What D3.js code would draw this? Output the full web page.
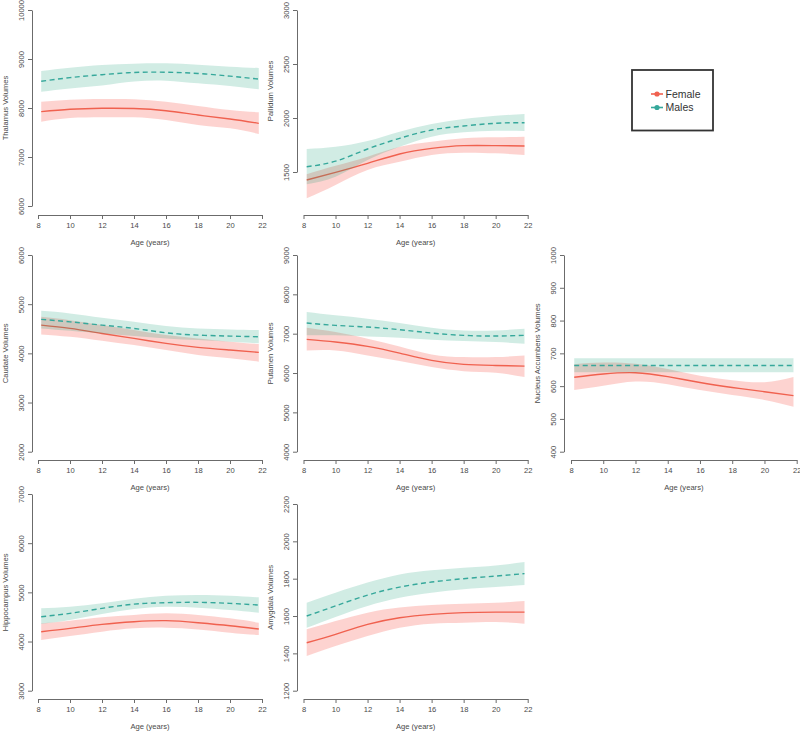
<!DOCTYPE html>
<html><head><meta charset="utf-8">
<script src="https://cdn.jsdelivr.net/npm/d3@7"></script>
<style>body{margin:0;background:#fff}svg{display:block}text{font-family:"Liberation Sans",Arial,sans-serif}</style>
</head><body><svg id="c" width="800" height="732"></svg>
<script>
const ages = [8.2, 10, 12, 14, 16, 18, 20, 21.8];
const xTicks = [8, 10, 12, 14, 16, 18, 20, 22];
const seriesNames = ["Female", "Males"];

// Thalamus
const thalamusFemale   = [7925, 7975, 7995, 7990, 7945, 7857, 7776, 7687];
const thalamusFemaleLo = [7721, 7795, 7810, 7810, 7755, 7653, 7585, 7469];
const thalamusFemaleHi = [8129, 8170, 8184, 8180, 8129, 8041, 7959, 7912];
const thalamusMale     = [8545, 8620, 8680, 8725, 8730, 8705, 8650, 8590];
const thalamusMaleLo   = [8333, 8400, 8460, 8540, 8557, 8503, 8449, 8381];
const thalamusMaleHi   = [8755, 8820, 8878, 8905, 8912, 8885, 8844, 8816];
// Pallidum
const pallidumFemale   = [1426, 1497, 1580, 1667, 1719, 1744, 1744, 1741];
const pallidumFemaleLo = [1256, 1380, 1519, 1595, 1657, 1679, 1673, 1657];
const pallidumFemaleHi = [1480, 1558, 1642, 1734, 1781, 1812, 1821, 1827];
const pallidumMale     = [1549, 1600, 1713, 1812, 1889, 1926, 1951, 1956];
const pallidumMaleLo   = [1386, 1456, 1611, 1734, 1827, 1867, 1882, 1880];
const pallidumMaleHi   = [1713, 1734, 1787, 1873, 1944, 1991, 2021, 2037];
// Caudate
const caudateFemale    = [4574, 4507, 4405, 4304, 4203, 4122, 4067, 4020];
const caudateFemaleLo  = [4385, 4337, 4256, 4168, 4067, 3966, 3898, 3830];
const caudateFemaleHi  = [4742, 4675, 4574, 4473, 4371, 4304, 4236, 4189];
const caudateMale      = [4690, 4641, 4574, 4507, 4418, 4371, 4351, 4337];
const caudateMaleLo    = [4507, 4459, 4405, 4351, 4304, 4270, 4236, 4203];
const caudateMaleHi    = [4864, 4811, 4722, 4641, 4554, 4507, 4487, 4473];
// Putamen
const putamenFemale    = [6855, 6787, 6677, 6506, 6321, 6219, 6193, 6176];
const putamenFemaleLo  = [6575, 6575, 6448, 6303, 6150, 6048, 6007, 5896];
const putamenFemaleHi  = [7152, 7041, 6873, 6677, 6473, 6405, 6405, 6448];
const putamenMale      = [7270, 7211, 7168, 7101, 7016, 6957, 6940, 6957];
const putamenMaleLo    = [6957, 6957, 6931, 6898, 6847, 6812, 6787, 6745];
const putamenMaleHi    = [7550, 7466, 7381, 7270, 7152, 7084, 7084, 7126];
// Nucleus Accumbens
const accumbensFemale   = [627, 637, 641, 629, 611, 596, 583, 571];
const accumbensFemaleLo = [588, 601, 614, 606, 588, 573, 558, 537];
const accumbensFemaleHi = [667, 672, 668, 652, 632, 618, 612, 628];
const accumbensMale     = [663, 663, 663, 663, 663, 663, 663, 663];
const accumbensMaleLo   = [642, 642, 642, 642, 642, 642, 642, 642];
const accumbensMaleHi   = [685, 685, 685, 685, 685, 685, 685, 685];
// Hippocampus
const hippoFemale      = [4200, 4268, 4349, 4403, 4424, 4383, 4322, 4254];
const hippoFemaleLo    = [4030, 4112, 4200, 4268, 4281, 4247, 4180, 4132];
const hippoFemaleHi    = [4369, 4424, 4492, 4539, 4573, 4539, 4471, 4383];
const hippoMale        = [4505, 4573, 4675, 4760, 4790, 4797, 4776, 4742];
const hippoMaleLo      = [4356, 4437, 4559, 4660, 4708, 4688, 4641, 4586];
const hippoMaleHi      = [4675, 4708, 4776, 4870, 4930, 4946, 4932, 4898];
// Amygdala
const amygFemale       = [1457, 1502, 1555, 1591, 1609, 1618, 1621, 1621];
const amygFemaleLo     = [1386, 1439, 1493, 1537, 1559, 1564, 1568, 1559];
const amygFemaleHi     = [1529, 1573, 1618, 1645, 1659, 1666, 1671, 1680];
const amygMale         = [1600, 1654, 1712, 1755, 1782, 1800, 1814, 1827];
const amygMaleLo       = [1537, 1595, 1654, 1698, 1725, 1743, 1755, 1766];
const amygMaleHi       = [1671, 1725, 1779, 1823, 1845, 1859, 1871, 1889];

const thalamusTicks  = [6000, 7000, 8000, 9000, 10000];
const pallidumTicks  = [1500, 2000, 2500, 3000];
const caudateTicks   = [2000, 3000, 4000, 5000, 6000];
const putamenTicks   = [4000, 5000, 6000, 7000, 8000, 9000];
const accumbensTicks = [400, 500, 600, 700, 800, 900, 1000];
const hippoTicks     = [3000, 4000, 5000, 6000, 7000];
const amygTicks      = [1200, 1400, 1600, 1800, 2000, 2200];

const panels = [
  {label:"Thalamus Volumes", col:0, row:0, ticks:thalamusTicks, yr:[206,10],
   f:[thalamusFemale,thalamusFemaleLo,thalamusFemaleHi], m:[thalamusMale,thalamusMaleLo,thalamusMaleHi]},
  {label:"Pallidum Volumes", col:1, row:0, ticks:pallidumTicks, yr:[172,10],
   f:[pallidumFemale,pallidumFemaleLo,pallidumFemaleHi], m:[pallidumMale,pallidumMaleLo,pallidumMaleHi]},
  {label:"Caudate Volumes", col:0, row:1, ticks:caudateTicks, yr:[451.7,255],
   f:[caudateFemale,caudateFemaleLo,caudateFemaleHi], m:[caudateMale,caudateMaleLo,caudateMaleHi]},
  {label:"Putamen Volumes", col:1, row:1, ticks:putamenTicks, yr:[451.7,255],
   f:[putamenFemale,putamenFemaleLo,putamenFemaleHi], m:[putamenMale,putamenMaleLo,putamenMaleHi]},
  {label:"Nucleus Accumbens Volumes", col:2, row:1, ticks:accumbensTicks, yr:[451.7,255],
   f:[accumbensFemale,accumbensFemaleLo,accumbensFemaleHi], m:[accumbensMale,accumbensMaleLo,accumbensMaleHi]},
  {label:"Hippocampus Volumes", col:0, row:2, ticks:hippoTicks, yr:[690.7,494],
   f:[hippoFemale,hippoFemaleLo,hippoFemaleHi], m:[hippoMale,hippoMaleLo,hippoMaleHi]},
  {label:"Amygdala Volumes", col:1, row:2, ticks:amygTicks, yr:[690.7,504],
   f:[amygFemale,amygFemaleLo,amygFemaleHi], m:[amygMale,amygMaleLo,amygMaleHi]}
];

const colYAxis = [32, 297, 564];
const colX = [[38,262],[303.5,527.7],[571,796.7]];
const rowXAxis = [215, 460, 699];
const rowXLabel = [242, 487, 726];

const femaleLine = "#F0614F", femaleFill = "rgba(248,118,109,0.32)";
const maleLine = "#36A89B", maleFill = "rgba(27,158,119,0.2)";
const axisCol = "#6b6b6b", textCol = "#4a4a4a";
const fs = 7.6;

const svg = d3.select("#c");

panels.forEach(p => {
  const g = svg.append("g");
  const x = d3.scaleLinear().domain([8,22]).range(colX[p.col]);
  const y = d3.scaleLinear().domain([p.ticks[0], p.ticks[p.ticks.length-1]]).range(p.yr);
  const ax = colYAxis[p.col], ay = rowXAxis[p.row];

  const area = (lo, hi) => d3.area().x((d,i)=>x(ages[i])).y0((d,i)=>y(lo[i])).y1((d,i)=>y(hi[i])).curve(d3.curveNatural)(ages);
  const line = (v) => d3.line().x((d,i)=>x(ages[i])).y((d,i)=>y(v[i])).curve(d3.curveNatural)(ages);

  g.append("path").attr("d", area(p.f[1], p.f[2])).attr("fill", femaleFill);
  g.append("path").attr("d", line(p.f[0])).attr("fill","none").attr("stroke",femaleLine).attr("stroke-width",1.4);
  g.append("path").attr("d", area(p.m[1], p.m[2])).attr("fill", maleFill);
  g.append("path").attr("d", line(p.m[0])).attr("fill","none").attr("stroke",maleLine).attr("stroke-width",1.4).attr("stroke-dasharray","5,3.5");

  // x axis
  const gx = g.append("g").attr("transform",`translate(0,${ay})`)
    .call(d3.axisBottom(x).tickValues(xTicks).tickSize(4).tickSizeOuter(0).tickPadding(4).tickFormat(d3.format("d")));
  gx.select(".domain").attr("stroke",axisCol);
  gx.selectAll(".tick line").attr("stroke",axisCol);
  gx.selectAll(".tick text").attr("font-size",fs).attr("fill",textCol).attr("font-family","Liberation Sans, Arial, sans-serif");

  // y axis
  const gy = g.append("g").attr("transform",`translate(${ax},0)`)
    .call(d3.axisLeft(y).tickValues(p.ticks).tickSize(4).tickSizeOuter(0).tickFormat(d3.format("d")));
  gy.select(".domain").attr("stroke",axisCol);
  gy.selectAll(".tick line").attr("stroke",axisCol);
  gy.selectAll(".tick text").attr("font-size",fs).attr("fill",textCol)
    .attr("font-family","Liberation Sans, Arial, sans-serif")
    .attr("x",null).attr("dy",null)
    .attr("text-anchor","middle")
    .attr("transform","translate(-11,0) rotate(-90)")
    .attr("dy","0.35em");

  // labels
  g.append("text").text("Age (years)").attr("x",(colX[p.col][0]+colX[p.col][1])/2).attr("y",rowXLabel[p.row])
    .attr("text-anchor","middle").attr("dy","0.35em").attr("font-size",fs).attr("fill",textCol);
  const cy = (p.yr[0]+p.yr[1])/2;
  g.append("text").text(p.label).attr("transform",`translate(${ax-27},${cy}) rotate(-90)`)
    .attr("text-anchor","middle").attr("dy","0.35em").attr("font-size",fs).attr("fill",textCol);
});

// legend
const lg = svg.append("g");
lg.append("rect").attr("x",632).attr("y",70).attr("width",81).attr("height",60.5)
  .attr("fill","#fff").attr("stroke","#333").attr("stroke-width",1.8);
const legendCols = [femaleLine, maleLine];
seriesNames.forEach((n,i) => {
  const yy = 94 + i*13.5;
  lg.append("line").attr("x1",651).attr("x2",663).attr("y1",yy).attr("y2",yy).attr("stroke",legendCols[i]).attr("stroke-width",1.6);
  lg.append("circle").attr("cx",657).attr("cy",yy).attr("r",2.6).attr("fill",legendCols[i]);
  lg.append("text").text(n).attr("x",665.5).attr("y",yy).attr("dy","0.36em").attr("font-size",10.5).attr("fill","#333");
});
</script></body></html>
